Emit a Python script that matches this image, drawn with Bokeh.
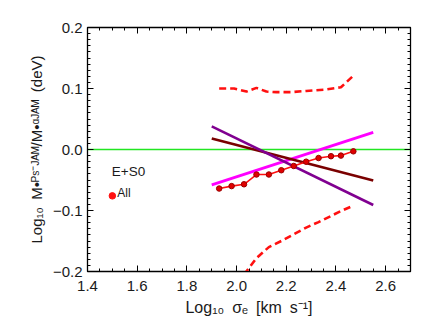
from bokeh.plotting import figure
from bokeh.models import Range1d, FixedTicker, LinearAxis, Label, CustomJSTickFormatter
from bokeh.embed import file_html
from bokeh.resources import INLINE

# ---- data ----
sigma_bins = [1.93, 1.98, 2.03, 2.08, 2.13, 2.18, 2.23, 2.28, 2.33, 2.38, 2.42, 2.47]
median_dev = [-0.064, -0.060, -0.057, -0.041, -0.041, -0.034, -0.027, -0.020, -0.014, -0.011, -0.010, -0.003]

upper_x = [1.93, 1.99, 2.04, 2.08, 2.12, 2.16, 2.22, 2.28, 2.35, 2.42, 2.47]
upper_y = [0.100, 0.100, 0.095, 0.101, 0.095, 0.094, 0.094, 0.096, 0.098, 0.102, 0.121]

lower_x = [2.03, 2.08, 2.13, 2.18, 2.23, 2.28, 2.33, 2.38, 2.42, 2.47]
lower_y = [-0.205, -0.178, -0.160, -0.150, -0.139, -0.128, -0.119, -0.109, -0.101, -0.092]

fit_x = [1.90, 2.55]
fit_magenta = [-0.058, 0.028]
fit_purple = [0.038, -0.091]
fit_brown = [0.018, -0.051]

all_x = [1.50]
all_y = [-0.076]

x_major = [1.4, 1.6, 1.8, 2.0, 2.2, 2.4, 2.6]
y_major = [-0.2, -0.1, 0.0, 0.1, 0.2]
x_minor = [round(1.4 + 0.05 * i, 2) for i in range(27)]
y_minor = [round(-0.2 + 0.01 * i, 2) for i in range(41)]

SP = "\u2002"
x_title = "Log\u2081\u2080" + SP + "\u03c3\u2091" + SP + "[km" + SP + "s\u207b\u00b9]"
y_title = ("Log\u2081\u2080" + SP + "M\u2022\u1d3e\u02e2\u207b\u1d36\u1d2c\u1d39/M\u2022\u1d45\u1d36\u1d2c\u1d39"
           + SP + "(deV)")

FONT = "Liberation Sans"
TXT = "#1a1a1a"

p = figure(width=436, height=327, output_backend="svg", toolbar_location=None,
           x_range=Range1d(1.4, 2.7), y_range=Range1d(-0.2, 0.2),
           min_border_left=87, min_border_right=26, min_border_top=27, min_border_bottom=56,
           x_axis_location=None, y_axis_location=None)
p.xgrid.visible = False
p.ygrid.visible = False
p.outline_line_color = "black"
p.outline_line_width = 1.3
p.background_fill_color = "white"
p.border_fill_color = "white"

fmt = CustomJSTickFormatter(code="return (tick < -1e-9 ? '\u2212' : '') + Math.abs(tick).toFixed(1);")

def style_axis(ax):
    ax.major_tick_in = 6
    ax.major_tick_out = 0
    ax.minor_tick_in = 3
    ax.minor_tick_out = 0
    ax.axis_line_color = "black"
    ax.major_tick_line_color = "black"
    ax.minor_tick_line_color = "black"
    ax.major_label_text_font = FONT
    ax.major_label_text_font_size = "15px"
    ax.major_label_text_color = TXT
    ax.axis_label_text_font = FONT
    ax.axis_label_text_font_size = "15px"
    ax.axis_label_text_font_style = "normal"
    ax.axis_label_text_color = TXT

def plain_axis(ticks, minors):
    ax = LinearAxis(ticker=FixedTicker(ticks=ticks, minor_ticks=minors),
                    formatter=CustomJSTickFormatter(code="return '';"))
    style_axis(ax)
    ax.major_label_standoff = 0
    return ax

xb = LinearAxis(ticker=FixedTicker(ticks=x_major, minor_ticks=x_minor), formatter=fmt,
                axis_label=x_title)
style_axis(xb)
xb.major_label_standoff = 9
xb.axis_label_standoff = 5
xb.axis_label_text_font_size = "16px"
p.add_layout(xb, "below")
p.add_layout(plain_axis(x_major, x_minor), "above")

yl = LinearAxis(ticker=FixedTicker(ticks=y_major, minor_ticks=y_minor), formatter=fmt,
                axis_label=y_title)
style_axis(yl)
yl.major_label_standoff = 5
yl.axis_label_standoff = 5
p.add_layout(yl, "left")
p.add_layout(plain_axis(y_major, y_minor), "right")

# zero line
p.line([1.4, 2.7], [0, 0], line_color="#22e622", line_width=1.5)

# fits
p.line(fit_x, fit_magenta, line_color="#ff00ff", line_width=2.8)
p.line(fit_x, fit_brown, line_color="#7a0000", line_width=2.6)
p.line(fit_x, fit_purple, line_color="#800090", line_width=2.6)

# dashed scatter bounds
p.line(upper_x, upper_y, line_color="#ff1010", line_width=2.6, line_dash="7 4")
p.line(lower_x, lower_y, line_color="#ff1010", line_width=2.6, line_dash="7 4")

# running median
p.line(sigma_bins, median_dev, line_color="#ff1010", line_width=1.6)
p.scatter(sigma_bins, median_dev, size=5.5, fill_color="#e00000", line_color="#9a0000", line_width=1)

# legend-like annotation
p.scatter(all_x, all_y, size=6.5, fill_color="#ff1010", line_color="#ff1010")
p.add_layout(Label(x=all_x[0], y=all_y[0], x_offset=-0.5, y_offset=24, text="E+S0",
                   text_font=FONT, text_font_size="13.5px", text_color=TXT,
                   text_baseline="alphabetic"))
p.add_layout(Label(x=all_x[0], y=all_y[0], x_offset=5, y_offset=3, text="All",
                   text_font=FONT, text_font_size="12px", text_color=TXT,
                   text_baseline="alphabetic"))

open("out.html", "w").write(file_html(p, INLINE))
